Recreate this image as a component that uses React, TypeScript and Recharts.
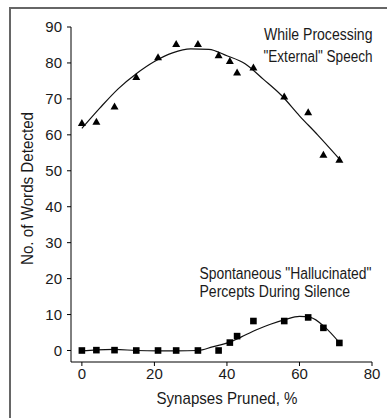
import { ComposedChart, Line, Scatter, XAxis, YAxis } from "recharts"

// percent of synapses pruned, shared by both series
const pruned = [0, 4, 9, 15, 21, 26, 32, 37.7, 40.8, 42.8, 47.3, 55.8, 62.4, 66.6, 71]
const externalWords = [63.4, 63.8, 68, 76.2, 81.7, 85.4, 85.4, 82.3, 80.7, 77.5, 78.9, 70.8, 66.4, 54.6, 53.2]
const hallucinatedWords = [0, 0.1, 0.1, 0, 0, 0, 0, 0, 2.2, 4, 8.2, 8.2, 9.2, 6.3, 2.1]

// fitted curves
const externalFitX = [0, 5, 10, 15, 20, 25, 30, 35, 40, 45, 50, 55, 60, 65, 71]
const externalFitY = [61.8, 67.5, 72.8, 77, 80.4, 82.8, 83.9, 83.8, 82, 79.8, 75.5, 71, 65.3, 60, 53.3]
const hallucFitX = [0, 4, 9, 15, 21, 26, 32, 36, 41, 44, 48, 52, 56, 60, 63, 67, 71]
const hallucFitY = [-0.1, 0.2, 0.3, 0, -0.1, -0.1, 0, 1.0, 2.4, 3.8, 5.7, 7.3, 8.6, 9.5, 9.2, 6.5, 2.2]

const xTicks = [0, 20, 40, 60, 80]
const yTicks = [0, 10, 20, 30, 40, 50, 60, 70, 80, 90]

const font = '"Liberation Sans", Arial, sans-serif'

const toPoints = (xs: number[], ys: number[]) => xs.map((x, i) => ({ x, y: ys[i] }))

const externalData = toPoints(pruned, externalWords)
const hallucData = toPoints(pruned, hallucinatedWords)
const externalFit = toPoints(externalFitX, externalFitY)
const hallucFit = toPoints(hallucFitX, hallucFitY)

function Triangle(props: any) {
  const { cx, cy } = props
  return <polygon points={`${cx - 4},${cy + 3.5} ${cx + 4},${cy + 3.5} ${cx},${cy - 3.5}`} fill="#000" />
}

function Square(props: any) {
  const { cx, cy } = props
  return <rect x={cx - 3.3} y={cy - 3.3} width={6.6} height={6.6} fill="#000" />
}

const tickStyle = { fontSize: 15, fill: "#1a1a1a", fontFamily: font }

// condensed look: squeeze a regular face to the width seen in the picture
function Narrow(props: { x: number; y: number; w: number; size: number; children: string; anchor?: string; transform?: string }) {
  return (
    <text
      x={props.x}
      y={props.y}
      fontSize={props.size}
      textLength={props.w}
      lengthAdjust="spacingAndGlyphs"
      textAnchor={props.anchor}
      transform={props.transform}
    >
      {props.children}
    </text>
  )
}

export default function App() {
  return (
    <div style={{ position: "absolute", left: 0, top: 0, width: 387, height: 418, overflow: "hidden", background: "#fff" }}>
      <style>{`body{margin:0}`}</style>
      <div
        style={{
          position: "absolute",
          left: 9,
          top: 7,
          width: 420,
          height: 440,
          borderLeft: "2px solid #666",
          borderTop: "2px solid #666",
        }}
      />
      <div style={{ position: "absolute", left: 0, top: 0 }}>
        <ComposedChart width={387} height={418} margin={{ top: 27, right: 15, left: 0, bottom: 0 }}>
          <XAxis
            type="number"
            dataKey="x"
            domain={[-3, 80]}
            ticks={xTicks}
            allowDataOverflow
            height={56}
            tickSize={4}
            tickMargin={2}
            stroke="#000"
            tick={tickStyle}
          />
          <YAxis
            type="number"
            dataKey="y"
            domain={[-3.2, 90]}
            ticks={yTicks}
            allowDataOverflow
            width={71}
            tickSize={4}
            tickMargin={5}
            stroke="#000"
            tick={tickStyle}
          />
          <Line data={externalFit} dataKey="y" type="monotone" stroke="#111" strokeWidth={1.2} dot={false} isAnimationActive={false} />
          <Line data={hallucFit} dataKey="y" type="monotone" stroke="#111" strokeWidth={1.2} dot={false} isAnimationActive={false} />
          <Scatter data={externalData} dataKey="y" shape={<Triangle />} isAnimationActive={false} />
          <Scatter data={hallucData} dataKey="y" shape={<Square />} isAnimationActive={false} />
        </ComposedChart>
      </div>
      <svg width={387} height={418} style={{ position: "absolute", left: 0, top: 0, pointerEvents: "none" }}>
        <g fontFamily={font} fill="#1a1a1a">
          <Narrow x={264} y={39.5} w={108.5} size={16}>While Processing</Narrow>
          <Narrow x={263.5} y={62} w={109} size={16}>"External" Speech</Narrow>
          <Narrow x={199.5} y={278.5} w={172} size={16}>Spontaneous "Hallucinated"</Narrow>
          <Narrow x={199.5} y={297} w={150.5} size={16}>Percepts During Silence</Narrow>
          <Narrow x={156.5} y={404} w={141} size={17}>Synapses Pruned, %</Narrow>
          <Narrow x={0} y={0} w={153} size={17} transform="translate(33,265) rotate(-90)">No. of Words Detected</Narrow>
        </g>
      </svg>
    </div>
  )
}
